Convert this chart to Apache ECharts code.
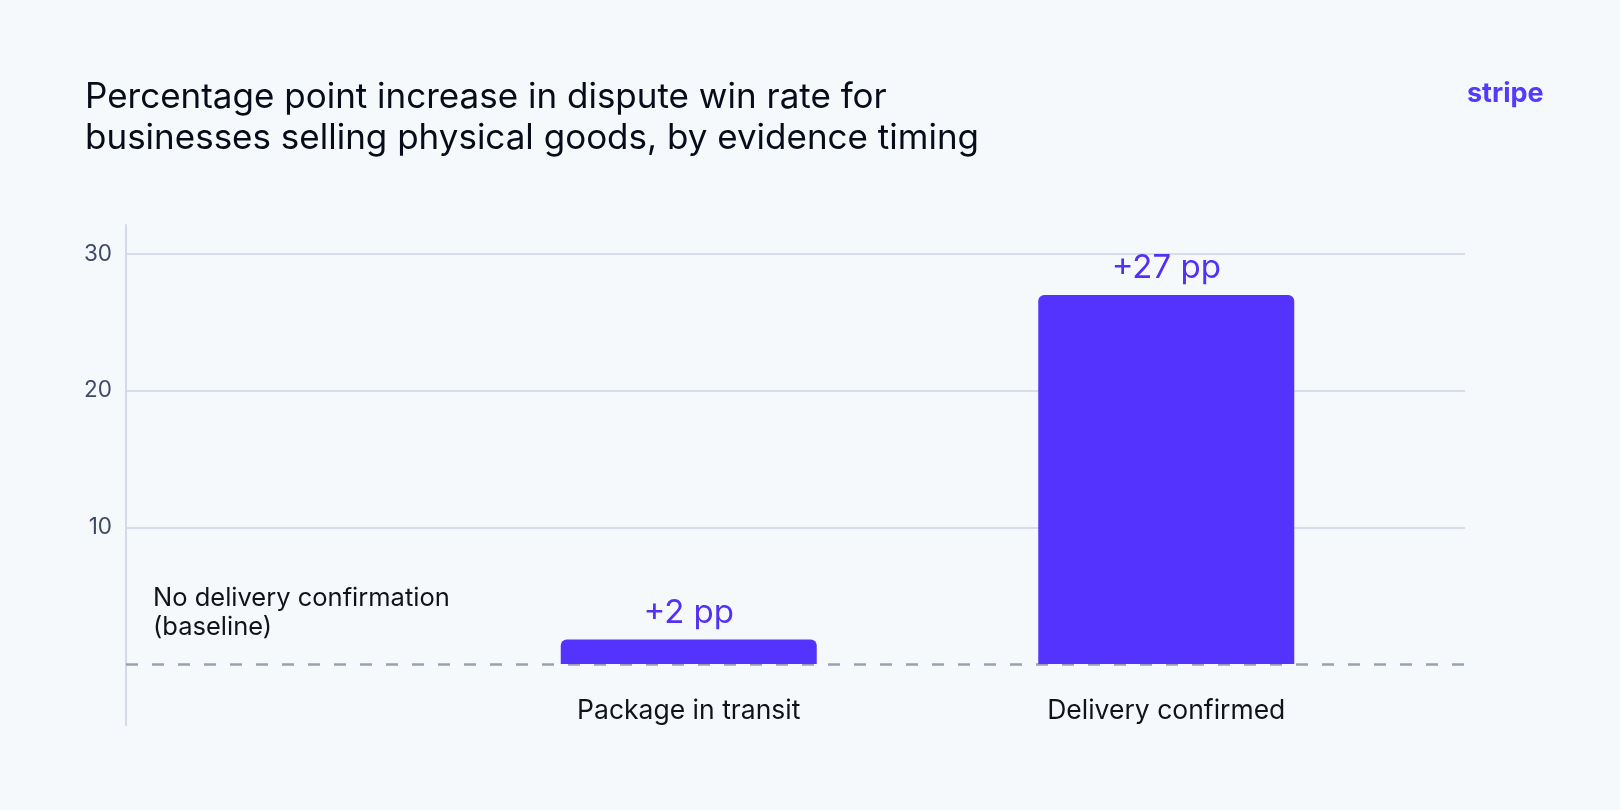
<!DOCTYPE html>
<html>
<head>
<meta charset="utf-8">
<script src="https://cdn.jsdelivr.net/npm/echarts@6/dist/echarts.min.js"></script>
<style>
  html, body { margin: 0; padding: 0; background: #f6f9fc; }
  #chart { width: 1620px; height: 810px; }
</style>
</head>
<body>
<div id="chart"></div>
<script>
// data
var categories = ['Package in transit', 'Delivery confirmed'];
var values = [1.8, 27];
var valueLabels = ['+2 pp', '+27 pp'];
var yTicks = [0, 10, 20, 30];
var baselineText = ['No delivery confirmation', '(baseline)'];

var titleText = [
  'Percentage point increase in dispute win rate for',
  'businesses selling physical goods, by evidence timing'
];

var FONT = 'Inter, "Noto Sans", sans-serif';
var BLURPLE = '#5433ff';

var chart = echarts.init(document.getElementById('chart'));

var option = {
  backgroundColor: '#f6f9fc',
  textStyle: { fontFamily: FONT },
  title: [{
    text: titleText.join('\n'),
    left: 80,
    top: 72,
    textStyle: {
      fontFamily: FONT,
      fontSize: 35,
      fontWeight: 400,
      lineHeight: 41,
      color: '#080c1a'
    }
  }, {
    text: 'stripe',
    left: 1462,
    top: 75,
    textStyle: {
      fontFamily: FONT,
      fontSize: 27,
      fontWeight: 700,
      color: '#533afd'
    }
  }],
  graphic: [{
    type: 'text',
    left: 153,
    top: 584,
    style: {
      text: baselineText.join('\n'),
      font: '400 25.5px ' + FONT,
      lineHeight: 29,
      fill: '#111318'
    }
  }],
  grid: [
    // gridlines, y labels, dashed zero line
    { left: 126, right: 155, top: 254, bottom: 146 },
    // the y axis line, which runs past the gridlines
    { left: 126, width: 1, top: 225, bottom: 85 },
    // bars
    { left: 450, right: 215, top: 254, bottom: 146 }
  ],
  xAxis: [
    { gridIndex: 0, type: 'value', min: 0, max: 1, show: false },
    { gridIndex: 1, type: 'value', min: 0, max: 1, show: false },
    {
      gridIndex: 2,
      type: 'category',
      data: categories,
      axisLine: { show: false },
      axisTick: { show: false },
      axisLabel: {
        margin: 34,
        fontSize: 26.5,
        color: '#111318',
        fontFamily: FONT
      }
    }
  ],
  yAxis: [
    {
      gridIndex: 0,
      type: 'value',
      min: yTicks[0],
      max: yTicks[yTicks.length - 1],
      interval: yTicks[1] - yTicks[0],
      axisLine: { show: false },
      axisTick: { show: false },
      axisLabel: {
        margin: 14,
        fontSize: 22.5,
        color: '#3d4b67',
        fontFamily: FONT,
        showMinLabel: false
      },
      splitLine: {
        showMinLine: false,
        lineStyle: { color: '#d7dee8', width: 2 }
      }
    },
    {
      gridIndex: 1,
      type: 'value',
      min: 0,
      max: 1,
      axisLine: { show: true, lineStyle: { color: '#d3dae5', width: 2 } },
      axisTick: { show: false },
      axisLabel: { show: false },
      splitLine: { show: false }
    },
    {
      gridIndex: 2,
      type: 'value',
      min: yTicks[0],
      max: yTicks[yTicks.length - 1],
      show: false
    }
  ],
  series: [
    {
      type: 'line',
      xAxisIndex: 0,
      yAxisIndex: 0,
      data: [],
      markLine: {
        silent: true,
        symbol: 'none',
        label: { show: false },
        lineStyle: { color: '#98a2b2', width: 2.5, type: [12, 14] },
        data: [{ yAxis: 0 }]
      }
    },
    {
      type: 'bar',
      xAxisIndex: 2,
      yAxisIndex: 2,
      data: values,
      barWidth: 256,
      z: 5,
      itemStyle: {
        color: BLURPLE,
        borderRadius: [6, 6, 0, 0]
      },
      label: {
        show: true,
        position: 'top',
        distance: 10,
        fontSize: 33,
        color: '#5230f5',
        fontFamily: FONT,
        formatter: function (p) {
          return valueLabels[p.dataIndex];
        }
      }
    }
  ]
};

chart.setOption(option);
</script>
</body>
</html>
